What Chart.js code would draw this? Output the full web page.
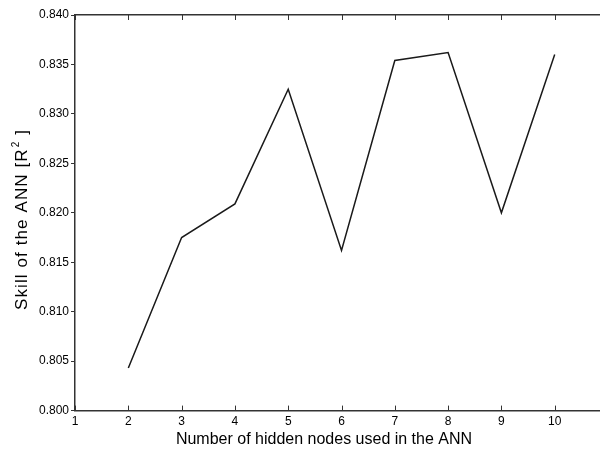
<!DOCTYPE html>
<html>
<head>
<meta charset="utf-8">
<script src="https://cdn.jsdelivr.net/npm/chart.js@4/dist/chart.umd.min.js"></script>
<style>
  html, body { margin: 0; padding: 0; background: #fff; overflow: hidden; }
  #wrap { position: absolute; left: 0; top: 0; width: 620px; height: 449px; }
</style>
</head>
<body>
<div id="wrap"><canvas id="chart" width="620" height="449"></canvas></div>
<script>
  // ── Data ──
  var hiddenNodes = [2, 3, 4, 5, 6, 7, 8, 9, 10];
  var skillR2     = [0.8043, 0.8175, 0.8209, 0.8325, 0.8162, 0.8354, 0.8362, 0.8200, 0.8360];
  var xTicks      = [1, 2, 3, 4, 5, 6, 7, 8, 9, 10];
  var xTitle      = 'Number of hidden nodes used in the ANN';
  var yTitle      = ['Skill of the ANN [R', '2', ' ]'];

  var FONT = '"Liberation Sans", Arial, sans-serif';
  var AXIS = '#333';

  // inward tick marks on top/bottom axes
  var inwardTicks = {
    id: 'inwardTicks',
    afterDraw: function (chart) {
      var ctx = chart.ctx, x = chart.scales.x, area = chart.chartArea;
      ctx.save();
      ctx.strokeStyle = AXIS;
      ctx.lineWidth = 1;
      for (var i = 0; i < xTicks.length; i++) {
        var px = Math.round(x.getPixelForValue(xTicks[i])) + 0.5;
        ctx.beginPath();
        ctx.moveTo(px, area.bottom); ctx.lineTo(px, area.bottom - 5);
        ctx.moveTo(px, area.top);    ctx.lineTo(px, area.top + 5);
        ctx.stroke();
      }
      ctx.restore();
    }
  };

  // axis titles (MATLAB-style placement, y title letter-spaced)
  var axisTitles = {
    id: 'axisTitles',
    afterDraw: function (chart) {
      var ctx = chart.ctx;
      ctx.save();
      ctx.fillStyle = '#000';
      ctx.textBaseline = 'alphabetic';

      ctx.font = '16px ' + FONT;
      ctx.textAlign = 'center';
      ctx.fillText(xTitle, 324, 444);

      // rotated y title
      ctx.translate(27, 220);
      ctx.rotate(-Math.PI / 2);
      ctx.textAlign = 'left';
      var big = '17px ' + FONT, small = '10px ' + FONT;
      ctx.font = big;
      var w0 = ctx.measureText(yTitle[0]).width, w2 = ctx.measureText(yTitle[2]).width;
      ctx.font = small;
      var w1 = ctx.measureText(yTitle[1]).width;
      var n = yTitle[0].length + yTitle[1].length + yTitle[2].length;
      var sp = Math.max(0, (180 - (w0 + w1 + w2)) / n);
      ctx.letterSpacing = sp + 'px';
      var x0 = -90;
      ctx.font = big;
      ctx.fillText(yTitle[0], x0, 0);
      x0 += w0 + sp * yTitle[0].length + 1;
      ctx.font = small;
      ctx.fillText(yTitle[1], x0, -8);
      x0 += w1 + sp * yTitle[1].length;
      ctx.font = big;
      ctx.fillText(yTitle[2], x0, 0);
      ctx.restore();
    }
  };

  var points = hiddenNodes.map(function (n, i) { return { x: n, y: skillR2[i] }; });

  new Chart(document.getElementById('chart'), {
    type: 'line',
    data: {
      datasets: [{
        data: points,
        borderColor: '#1a1a1a',
        borderWidth: 1.5,
        pointRadius: 0,
        tension: 0,
        fill: false
      }]
    },
    options: {
      responsive: false,
      animation: false,
      layout: { padding: { top: 15, right: 12, left: 37, bottom: 16 } },
      plugins: { legend: { display: false }, tooltip: { enabled: false } },
      scales: {
        x: {
          type: 'linear',
          min: 1, max: 11,
          afterBuildTicks: function (s) { s.ticks = xTicks.map(function (v) { return { value: v }; }); },
          ticks: { color: '#000', font: { family: FONT, size: 12 }, padding: 4, maxRotation: 0 },
          grid: { display: true, drawOnChartArea: false, drawTicks: false },
          border: { color: AXIS, width: 1.5 }
        },
        x2: {
          type: 'linear', position: 'top',
          min: 1, max: 11,
          ticks: { display: false },
          grid: { display: true, drawOnChartArea: false, drawTicks: false },
          border: { color: AXIS, width: 1.5 }
        },
        y: {
          min: 0.8, max: 0.84,
          ticks: { stepSize: 0.005, color: '#000', font: { family: FONT, size: 12 }, padding: 2,
                   callback: function (v) { return v.toFixed(3); } },
          grid: { drawOnChartArea: false, tickLength: 4, color: AXIS },
          border: { color: AXIS, width: 1.5 }
        }
      }
    },
    plugins: [inwardTicks, axisTitles]
  });
</script>
</body>
</html>
